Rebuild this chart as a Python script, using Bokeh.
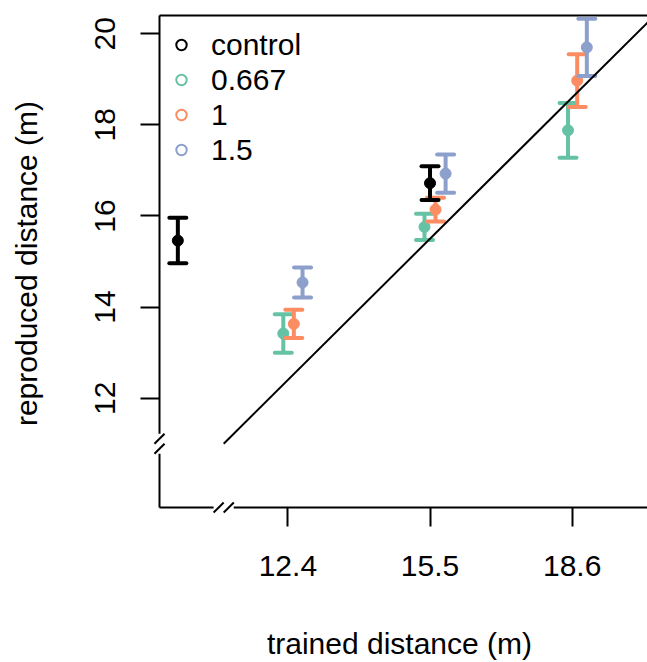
from bokeh.plotting import figure
from bokeh.models import Range1d, FixedTicker, Legend, LegendItem
from bokeh.embed import file_html
from bokeh.resources import INLINE

# ---------------- data ----------------
control_x = [10.0, 15.5]
control_y = [15.46, 16.72]
control_err = [0.50, 0.37]

g667_x = [12.30, 15.38, 18.51]
g667_y = [13.42, 15.76, 17.88]
g667_err = [0.42, 0.29, 0.60]

g1_x = [12.53, 15.62, 18.71]
g1_y = [13.63, 16.14, 18.97]
g1_err = [0.31, 0.26, 0.58]

g15_x = [12.72, 15.84, 18.92]
g15_y = [14.54, 16.93, 19.70]
g15_err = [0.33, 0.42, 0.63]

x_ticks = [12.4, 15.5, 18.6]
y_ticks = [12, 14, 16, 18, 20]
legend_labels = ["control", "0.667", "1", "1.5"]
colors = ["black", "#66C2A5", "#FC8D62", "#8DA0CB"]

box_lim = [9.6, 20.4]      # plotting region limits (both axes)
axis_break = 11.0          # position of axis break on both axes
diag = [11.0, 21.0]        # identity line y = x

# ---------------- layout ----------------
S = 45.85  # px per unit
FONT = "Liberation Sans"

x_start = box_lim[0] - 8 / S
x_end = box_lim[0] + 488 / S
y_start = box_lim[0] - 8 / S
y_end = box_lim[1] + 4 / S

p = figure(width=647, height=662, output_backend="svg", toolbar_location=None,
           x_range=Range1d(x_start, x_end), y_range=Range1d(y_start, y_end),
           min_border_left=151, min_border_right=0, min_border_top=11, min_border_bottom=144)
p.outline_line_color = None
p.xgrid.visible = False
p.ygrid.visible = False
p.background_fill_color = "white"
p.border_fill_color = "white"

for ax in (p.xaxis[0], p.yaxis[0]):
    ax.axis_line_color = None
    ax.major_tick_in = 8
    ax.major_tick_out = 11
    ax.major_tick_line_width = 2
    ax.major_tick_line_color = "black"
    ax.minor_tick_line_color = None
    ax.major_label_text_font = FONT
    ax.major_label_text_font_size = "30px"
    ax.major_label_text_color = "black"
    ax.axis_label_text_font = FONT
    ax.axis_label_text_font_size = "30px"
    ax.axis_label_text_font_style = "normal"
    ax.axis_label_text_color = "black"

p.xaxis[0].ticker = FixedTicker(ticks=x_ticks)
p.yaxis[0].ticker = FixedTicker(ticks=y_ticks)
p.xaxis[0].axis_label = "trained distance (m)"
p.yaxis[0].axis_label = "reproduced distance (m)"
p.xaxis[0].major_label_standoff = 29
p.xaxis[0].axis_label_standoff = 48
p.yaxis[0].major_label_standoff = 25
p.yaxis[0].major_label_orientation = "vertical"
p.yaxis[0].axis_label_standoff = 50

# ---------------- box with breaks ----------------
gap = 0.22
sl = 0.11
lo, hi = box_lim
p.segment(x0=[lo], y0=[hi], x1=[hi], y1=[hi], line_color="black", line_width=2)
p.segment(x0=[lo, lo], y0=[lo, axis_break + gap], x1=[lo, lo], y1=[axis_break - gap, hi],
          line_color="black", line_width=2)
p.segment(x0=[lo, axis_break + gap], y0=[lo, lo], x1=[axis_break - gap, hi], y1=[lo, lo],
          line_color="black", line_width=2)
cy = [axis_break - sl, axis_break + sl]
p.segment(x0=[lo - sl] * 2, y0=[c - sl for c in cy], x1=[lo + sl] * 2, y1=[c + sl for c in cy],
          line_color="black", line_width=2)
cx = [axis_break - sl, axis_break + sl]
p.segment(x0=[c - sl for c in cx], y0=[lo - sl] * 2, x1=[c + sl for c in cx], y1=[lo + sl] * 2,
          line_color="black", line_width=2)

# ---------------- error bars & points ----------------
series = {
    "0.667": (g667_x, g667_y, g667_err, colors[1]),
    "1": (g1_x, g1_y, g1_err, colors[2]),
    "1.5": (g15_x, g15_y, g15_err, colors[3]),
    "control": (control_x, control_y, control_err, colors[0]),
}
legend_renderers = {}
for name, (xs, ys, es, col) in series.items():
    up = [y + e for y, e in zip(ys, es)]
    dn = [y - e for y, e in zip(ys, es)]
    p.segment(x0=xs, y0=dn, x1=xs, y1=up, line_color=col, line_width=4)
    p.scatter(x=xs + xs, y=up + dn, marker="dash", size=17, line_color=col, line_width=4,
              line_cap="round")
    # open circle (used for the legend symbol; hidden below the filled dot)
    legend_renderers[name] = p.scatter(x=xs, y=ys, marker="circle", size=8, fill_color=None,
                                       line_color=col, line_width=2)
    p.scatter(x=xs, y=ys, marker="circle", size=11, fill_color=col, line_color=col)

# identity line
p.line(x=diag, y=diag, line_color="black", line_width=2)

# ---------------- legend ----------------
items = [LegendItem(label=lab, renderers=[legend_renderers[lab]]) for lab in legend_labels]
legend = Legend(items=items, location=(17, 348), margin=0, padding=4,
                glyph_width=26, glyph_height=35, label_height=35, spacing=0,
                label_standoff=17, border_line_color=None, background_fill_alpha=0,
                label_text_font=FONT, label_text_font_size="30px", label_text_color="black")
p.add_layout(legend)

open("out.html", "w").write(file_html(p, INLINE))
